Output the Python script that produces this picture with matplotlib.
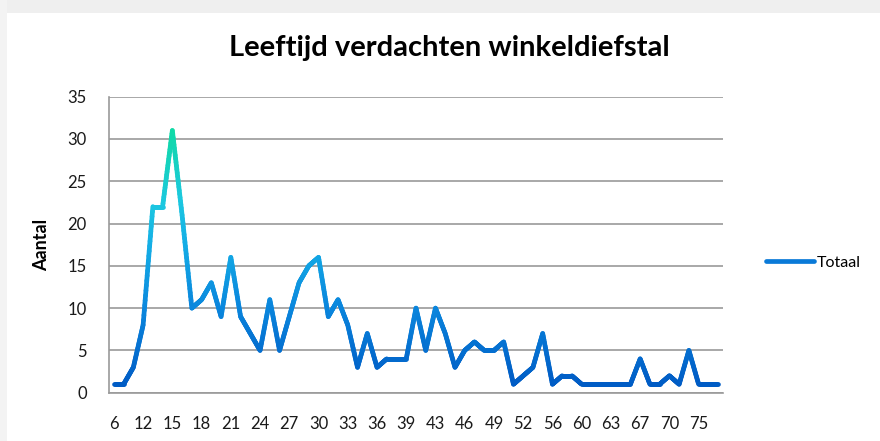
import numpy as np
import matplotlib
matplotlib.use('Agg')
import matplotlib.pyplot as plt
from matplotlib.collections import LineCollection
from matplotlib.colors import LinearSegmentedColormap, Normalize
from matplotlib.lines import Line2D
from matplotlib.patches import Rectangle

# ---- data ----
ages = [6, 9, 11] + list(range(12, 40)) + [40, 41, 43, 44, 45, 46, 47, 48, 49, 50, 51, 52,
        53, 54, 56, 57, 58, 60, 61, 62, 63, 64, 65, 67, 68, 69, 70, 72, 73, 75, 76, 78]
values = [1, 1, 3, 8, 22, 22, 31, 21, 10, 11, 13, 9, 16, 9, 7, 5, 11, 5, 9, 13, 15, 16,
          9, 11, 8, 3, 7, 3, 4, 4, 4, 10, 5, 10, 7, 3, 5, 6, 5, 5, 6, 1, 2, 3, 7, 1, 2, 2,
          1, 1, 1, 1, 1, 1, 4, 1, 1, 2, 1, 5, 1, 1, 1]
series_name = "Totaal"
title = "Leeftijd verdachten winkeldiefstal"
ylabel = "Aantal"
yticks = [0, 5, 10, 15, 20, 25, 30, 35]
label_step = 3

plt.rcParams['font.family'] = ['Lato', 'DejaVu Sans']

W, H = 880, 441
fig = plt.figure(figsize=(W / 100, H / 100), dpi=100)
fig.patch.set_facecolor('white')

# card shadow bands (top and left)
fig.patches.append(Rectangle((0, 1 - 13 / H), 1, 13 / H, transform=fig.transFigure,
                             facecolor='#efefef', edgecolor='none', zorder=0))
fig.patches.append(Rectangle((0, 0), 7 / W, 1, transform=fig.transFigure,
                             facecolor='#f3f3f3', edgecolor='none', zorder=0))

left, right = 109 / W, 723 / W
bottom, top = 1 - 392.7 / H, 1 - 96.7 / H
ax = fig.add_axes([left, bottom, right - left, top - bottom])

n = len(ages)
x = np.arange(n)
y = np.array(values, dtype=float)

# gradient line (colour depends on height)
cmap = LinearSegmentedColormap.from_list('grad', [
    (0.0, '#005CC5'), (0.3, '#0A86DD'), (0.55, '#14AEE6'),
    (0.72, '#1CC8E0'), (1.0, '#10DAA6')])
norm = Normalize(vmin=min(values), vmax=max(values))
segs, cols = [], []
sub = 24
for i in range(n - 1):
    t = np.linspace(0, 1, sub + 1)
    xs = x[i] + (x[i + 1] - x[i]) * t
    ys = y[i] + (y[i + 1] - y[i]) * t
    for k in range(sub):
        segs.append([(xs[k], ys[k]), (xs[k + 1], ys[k + 1])])
        cols.append(cmap(norm((ys[k] + ys[k + 1]) / 2)))
lc = LineCollection(segs, colors=cols, linewidths=3.4, capstyle='round',
                    joinstyle='round', zorder=3)
ax.add_collection(lc)

ax.set_xlim(-0.5, n - 0.5)
ax.set_ylim(0, 35)
ax.set_yticks(yticks)
ax.set_yticklabels([str(v) for v in yticks])
tick_idx = list(range(0, n, label_step))
ax.set_xticks(tick_idx)
ax.set_xticklabels([str(ages[i]) for i in tick_idx])

ax.grid(axis='y', color='#9a9a9a', linewidth=1.2, zorder=1)
ax.set_axisbelow(True)
for s in ['top', 'right']:
    ax.spines[s].set_visible(False)
ax.spines['left'].set_color('#9a9a9a')
ax.spines['left'].set_linewidth(1.2)
ax.spines['bottom'].set_color('#9a9a9a')
ax.spines['bottom'].set_linewidth(1.2)
ax.tick_params(axis='y', length=0, pad=16, labelsize=12, labelcolor='#1a1a1a')
ax.tick_params(axis='x', length=0, pad=17, labelsize=12, labelcolor='#1a1a1a')

fig.text(449 / W, 1 - 48 / H, title, ha='center', va='center', fontsize=21,
         fontweight='bold', color='#000000')
fig.text(42 / W, 1 - 245 / H, ylabel, ha='center', va='center', rotation=90,
         fontsize=13, fontweight='bold', color='#000000')

handle = Line2D([], [], color='#0A7AD8', linewidth=3.4, solid_capstyle='round')
fig.legend([handle], [series_name], loc='center left',
           bbox_to_anchor=(766 / W, 1 - 263 / H), frameon=False, borderpad=0,
           borderaxespad=0, handlelength=3.0, handletextpad=0.15, fontsize=11.5)

fig.savefig('out.png', dpi=100, facecolor='white')
